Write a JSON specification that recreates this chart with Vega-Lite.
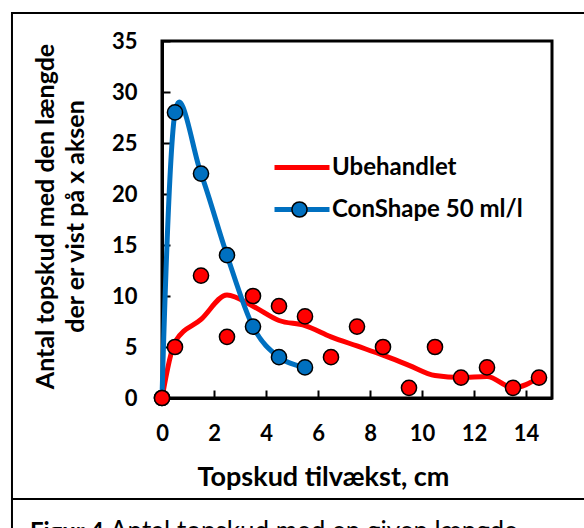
{
  "$schema": "https://vega.github.io/schema/vega-lite/v6.json",
  "width": 390,
  "height": 357,
  "autosize": {"type": "none"},
  "padding": {"left": 162, "top": 41, "right": 32, "bottom": 130},
  "background": "white",
  "config": {
    "view": {"stroke": "black", "strokeWidth": 3},
    "font": "Lato"
  },
  "data": {
    "values": [
      {"series": "Ubehandlet", "kind": "line", "x": 0, "y": 0},
      {"series": "Ubehandlet", "kind": "line", "x": 0.5, "y": 5.5},
      {"series": "Ubehandlet", "kind": "line", "x": 1.5, "y": 7.7},
      {"series": "Ubehandlet", "kind": "line", "x": 2.5, "y": 10.1},
      {"series": "Ubehandlet", "kind": "line", "x": 3.5, "y": 9.0},
      {"series": "Ubehandlet", "kind": "line", "x": 4.5, "y": 7.6},
      {"series": "Ubehandlet", "kind": "line", "x": 5.5, "y": 7.1},
      {"series": "Ubehandlet", "kind": "line", "x": 6.5, "y": 6.0},
      {"series": "Ubehandlet", "kind": "line", "x": 7.5, "y": 5.1},
      {"series": "Ubehandlet", "kind": "line", "x": 8.5, "y": 4.2},
      {"series": "Ubehandlet", "kind": "line", "x": 9.5, "y": 3.2},
      {"series": "Ubehandlet", "kind": "line", "x": 10.5, "y": 2.2},
      {"series": "Ubehandlet", "kind": "line", "x": 11.5, "y": 2.0},
      {"series": "Ubehandlet", "kind": "line", "x": 12.5, "y": 2.1},
      {"series": "Ubehandlet", "kind": "line", "x": 13.5, "y": 1.0},
      {"series": "Ubehandlet", "kind": "line", "x": 14.5, "y": 2.0},
      {"series": "Ubehandlet", "kind": "point", "x": 0, "y": 0},
      {"series": "Ubehandlet", "kind": "point", "x": 0.5, "y": 5},
      {"series": "Ubehandlet", "kind": "point", "x": 1.5, "y": 12},
      {"series": "Ubehandlet", "kind": "point", "x": 2.5, "y": 6},
      {"series": "Ubehandlet", "kind": "point", "x": 3.5, "y": 10},
      {"series": "Ubehandlet", "kind": "point", "x": 4.5, "y": 9},
      {"series": "Ubehandlet", "kind": "point", "x": 5.5, "y": 8},
      {"series": "Ubehandlet", "kind": "point", "x": 6.5, "y": 4},
      {"series": "Ubehandlet", "kind": "point", "x": 7.5, "y": 7},
      {"series": "Ubehandlet", "kind": "point", "x": 8.5, "y": 5},
      {"series": "Ubehandlet", "kind": "point", "x": 9.5, "y": 1},
      {"series": "Ubehandlet", "kind": "point", "x": 10.5, "y": 5},
      {"series": "Ubehandlet", "kind": "point", "x": 11.5, "y": 2},
      {"series": "Ubehandlet", "kind": "point", "x": 12.5, "y": 3},
      {"series": "Ubehandlet", "kind": "point", "x": 13.5, "y": 1},
      {"series": "Ubehandlet", "kind": "point", "x": 14.5, "y": 2},
      {"series": "ConShape 50 ml/l", "kind": "both", "x": 0, "y": 0},
      {"series": "ConShape 50 ml/l", "kind": "both", "x": 0.5, "y": 28},
      {"series": "ConShape 50 ml/l", "kind": "both", "x": 1.5, "y": 22},
      {"series": "ConShape 50 ml/l", "kind": "both", "x": 2.5, "y": 14},
      {"series": "ConShape 50 ml/l", "kind": "both", "x": 3.5, "y": 7},
      {"series": "ConShape 50 ml/l", "kind": "both", "x": 4.5, "y": 4},
      {"series": "ConShape 50 ml/l", "kind": "both", "x": 5.5, "y": 3}
    ]
  },
  "layer": [
    {
      "transform": [{"filter": "datum.kind === 'line'"}],
      "mark": {"type": "line", "interpolate": "monotone", "strokeWidth": 5, "strokeCap": "round"},
      "encoding": {
        "x": {
          "field": "x", "type": "quantitative",
          "scale": {"domain": [0, 15], "nice": false, "zero": false},
          "axis": {
            "title": "Topskud tilvækst, cm",
            "values": [0, 2, 4, 6, 8, 10, 12, 14],
            "grid": false,
            "domainColor": "black", "domainWidth": 3,
            "tickColor": "black", "tickWidth": 2, "tickSize": -8,
            "labelFont": "Lato", "labelFontWeight": "bold", "labelFontSize": 22, "labelColor": "black",
            "labelPadding": 33, "labelFlush": false,
            "titleFont": "Lato", "titleFontWeight": "bold", "titleFontSize": 27, "titleColor": "black",
            "titleX": 161, "titleY": 87, "titleAlign": "center", "titleBaseline": "alphabetic"
          }
        },
        "y": {
          "field": "y", "type": "quantitative",
          "scale": {"domain": [0, 35], "nice": false, "zero": false},
          "axis": {
            "title": ["Antal topskud med den længde", "der er vist på x aksen"],
            "values": [0, 5, 10, 15, 20, 25, 30, 35],
            "grid": false,
            "domainColor": "black", "domainWidth": 3,
            "tickColor": "black", "tickWidth": 2, "tickSize": -8,
            "labelFont": "Lato", "labelFontWeight": "bold", "labelFontSize": 22, "labelColor": "black",
            "labelPadding": 33, "labelFlush": false,
            "titleFont": "Lato", "titleFontWeight": "bold", "titleFontSize": 25, "titleColor": "black",
            "titleLineHeight": 30,
            "titleX": -109, "titleY": 175, "titleAngle": -90, "titleAlign": "center", "titleBaseline": "alphabetic"
          }
        },
        "color": {
          "field": "series", "type": "nominal",
          "scale": {"domain": ["Ubehandlet", "ConShape 50 ml/l"], "range": ["#FF0000", "#0070C0"]},
          "legend": {
            "title": null, "orient": "none", "legendX": 128, "legendY": 114.5,
            "direction": "vertical",
            "symbolType": "M-3,0L3,0", "symbolSize": 336, "symbolStrokeWidth": 5,
            "labelFont": "Lato", "labelFontWeight": "bold", "labelFontSize": 24, "labelColor": "black",
            "labelOffset": 18, "labelLimit": 400, "rowPadding": 18, "padding": 0
          }
        }
      }
    },
    {
      "transform": [{"filter": "datum.kind === 'both'"}],
      "mark": {"type": "line", "interpolate": "cardinal", "strokeWidth": 5, "strokeCap": "round"},
      "encoding": {
        "x": {"field": "x", "type": "quantitative", "scale": {"domain": [0, 15], "nice": false, "zero": false}},
        "y": {"field": "y", "type": "quantitative", "scale": {"domain": [0, 35], "nice": false, "zero": false}},
        "color": {"field": "series", "type": "nominal"}
      }
    },
    {
      "transform": [{"filter": "datum.kind !== 'line'"}],
      "mark": {"type": "point", "filled": true, "opacity": 1, "stroke": "black", "strokeWidth": 1.5, "size": 230, "shape": "circle"},
      "encoding": {
        "x": {"field": "x", "type": "quantitative", "scale": {"domain": [0, 15], "nice": false, "zero": false}},
        "y": {"field": "y", "type": "quantitative", "scale": {"domain": [0, 35], "nice": false, "zero": false}},
        "fill": {
          "field": "series", "type": "nominal",
          "scale": {"domain": ["ConShape 50 ml/l", "Ubehandlet"], "range": ["#0070C0", "#FF0000"]},
          "legend": {
            "title": null, "orient": "none", "legendX": 129, "legendY": 160,
            "values": ["ConShape 50 ml/l"],
            "symbolType": "circle", "symbolSize": 230, "symbolStrokeColor": "black", "symbolStrokeWidth": 1.5,
            "labelExpr": "''", "padding": 0
          }
        },
        "order": {"field": "series", "type": "nominal", "sort": "ascending"}
      }
    },
    {
      "data": {"values": [{"n": 1}]},
      "mark": {"type": "rect", "fill": "white", "fillOpacity": 0, "stroke": "black", "strokeWidth": 2},
      "encoding": {
        "x": {"datum": -5.77, "type": "quantitative", "scale": {"domain": [0, 15], "nice": false, "zero": false}},
        "x2": {"datum": 17},
        "y": {"datum": 37.75, "type": "quantitative", "scale": {"domain": [0, 35], "nice": false, "zero": false}},
        "y2": {"datum": -15}
      }
    },
    {
      "data": {"values": [{"n": 1}]},
      "mark": {"type": "rule", "stroke": "black", "strokeWidth": 2},
      "encoding": {
        "x": {"datum": -5.77, "type": "quantitative", "scale": {"domain": [0, 15], "nice": false, "zero": false}},
        "x2": {"datum": 17},
        "y": {"datum": -9.9, "type": "quantitative", "scale": {"domain": [0, 35], "nice": false, "zero": false}}
      }
    },
    {
      "data": {"values": [{"label": "Figur 4"}]},
      "mark": {"type": "text", "font": "Lato", "fontWeight": "bold", "fontSize": 24, "align": "left", "baseline": "alphabetic", "color": "black"},
      "encoding": {
        "x": {"datum": -5.08, "type": "quantitative", "scale": {"domain": [0, 15], "nice": false, "zero": false}},
        "y": {"datum": -13.9, "type": "quantitative", "scale": {"domain": [0, 35], "nice": false, "zero": false}},
        "text": {"field": "label"}
      }
    },
    {
      "data": {"values": [{"label": "Antal topskud med en given længde."}]},
      "mark": {"type": "text", "font": "Lato", "fontWeight": "normal", "fontSize": 26, "align": "left", "baseline": "alphabetic", "color": "black"},
      "encoding": {
        "x": {"datum": -2.0, "type": "quantitative", "scale": {"domain": [0, 15], "nice": false, "zero": false}},
        "y": {"datum": -13.9, "type": "quantitative", "scale": {"domain": [0, 35], "nice": false, "zero": false}},
        "text": {"field": "label"}
      }
    }
  ]
}
